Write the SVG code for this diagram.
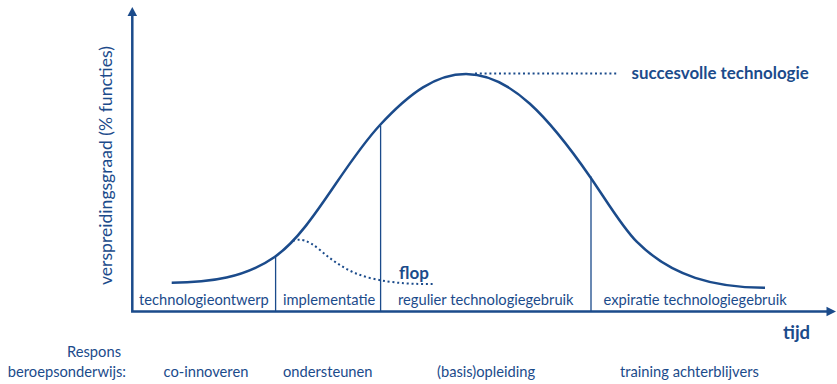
<svg xmlns="http://www.w3.org/2000/svg" width="837" height="384" viewBox="0 0 837 384">
<style>
text{font-family:Lato,"Noto Sans","Liberation Sans",sans-serif;fill:#1b4b8b}
.lbl{font-size:14.7px}
.big{font-size:16.5px;font-weight:bold}
.ax{stroke:#1b4b8b;stroke-width:2.5;fill:none}
.curve{stroke:#1b4b8b;stroke-width:2.5;fill:none}
.div{stroke:#1b4b8b;stroke-width:1.3;fill:none}
.dot{stroke:#1b4b8b;stroke-width:2;fill:none;stroke-dasharray:2 2.8}
</style>
<rect width="837" height="384" fill="#fff"/>
<g id="connectors">
<path class="ax" d="M132.3,14 V311.5 H828"/>
<path d="M132.3,7 L127.5,16 L137.1,16 Z" fill="#1b4b8b"/>
<path d="M836,311.5 L826.5,306.8 L826.5,316.2 Z" fill="#1b4b8b"/>
<path class="div" d="M275.6,256.5 V311.5 M380.6,125.5 V311.5 M591,176.5 V311.5"/>
<path class="dot" d="M293,241 C300,238 308,240 320,250 C335,263 350,273 370,278 C395,284 415,284 433,284"/>
<path class="dot" d="M475,73.5 H618"/>
<path id="adoption-curve" class="curve" d="M171.7,282.7 C210,282.7 245,277.7 275,256.7 C312,230.8 342,166 380,125 C410,92.6 436,74 466,74 C511,74 550,119.1 590,176.7 C605,198.3 621.7,226.7 636.7,241.7 C671.7,276.7 715,287.7 765,287.7"/>
</g>
<g id="axis-y-label"><text class="lbl" style="font-size:17.6px" transform="translate(112,285) rotate(-90)">verspreidingsgraad (% functies)</text></g>
<g id="axis-x-label"><text class="big" x="783" y="339" style="font-size:18.5px">tijd</text></g>
<g id="succes"><text class="big" x="631.5" y="79" style="font-size:16.9px">succesvolle technologie</text></g>
<g id="flop"><text class="big" x="399" y="278.5" style="font-size:17px">flop</text></g>
<g id="phase-1"><text class="lbl" x="139" y="305">technologieontwerp</text></g>
<g id="phase-2"><text class="lbl" x="283" y="305">implementatie</text></g>
<g id="phase-3"><text class="lbl" x="398" y="305">regulier technologiegebruik</text></g>
<g id="phase-4"><text class="lbl" x="603.5" y="305">expiratie technologiegebruik</text></g>
<g id="respons"><text class="lbl" x="121" y="357" text-anchor="end">Respons</text><text class="lbl" x="126" y="377" text-anchor="end">beroepsonderwijs:</text></g>
<g id="resp-1"><text class="lbl" x="163.5" y="377">co-innoveren</text></g>
<g id="resp-2"><text class="lbl" x="283" y="377">ondersteunen</text></g>
<g id="resp-3"><text class="lbl" x="437" y="377">(basis)opleiding</text></g>
<g id="resp-4"><text class="lbl" x="620" y="377">training achterblijvers</text></g>
</svg>
